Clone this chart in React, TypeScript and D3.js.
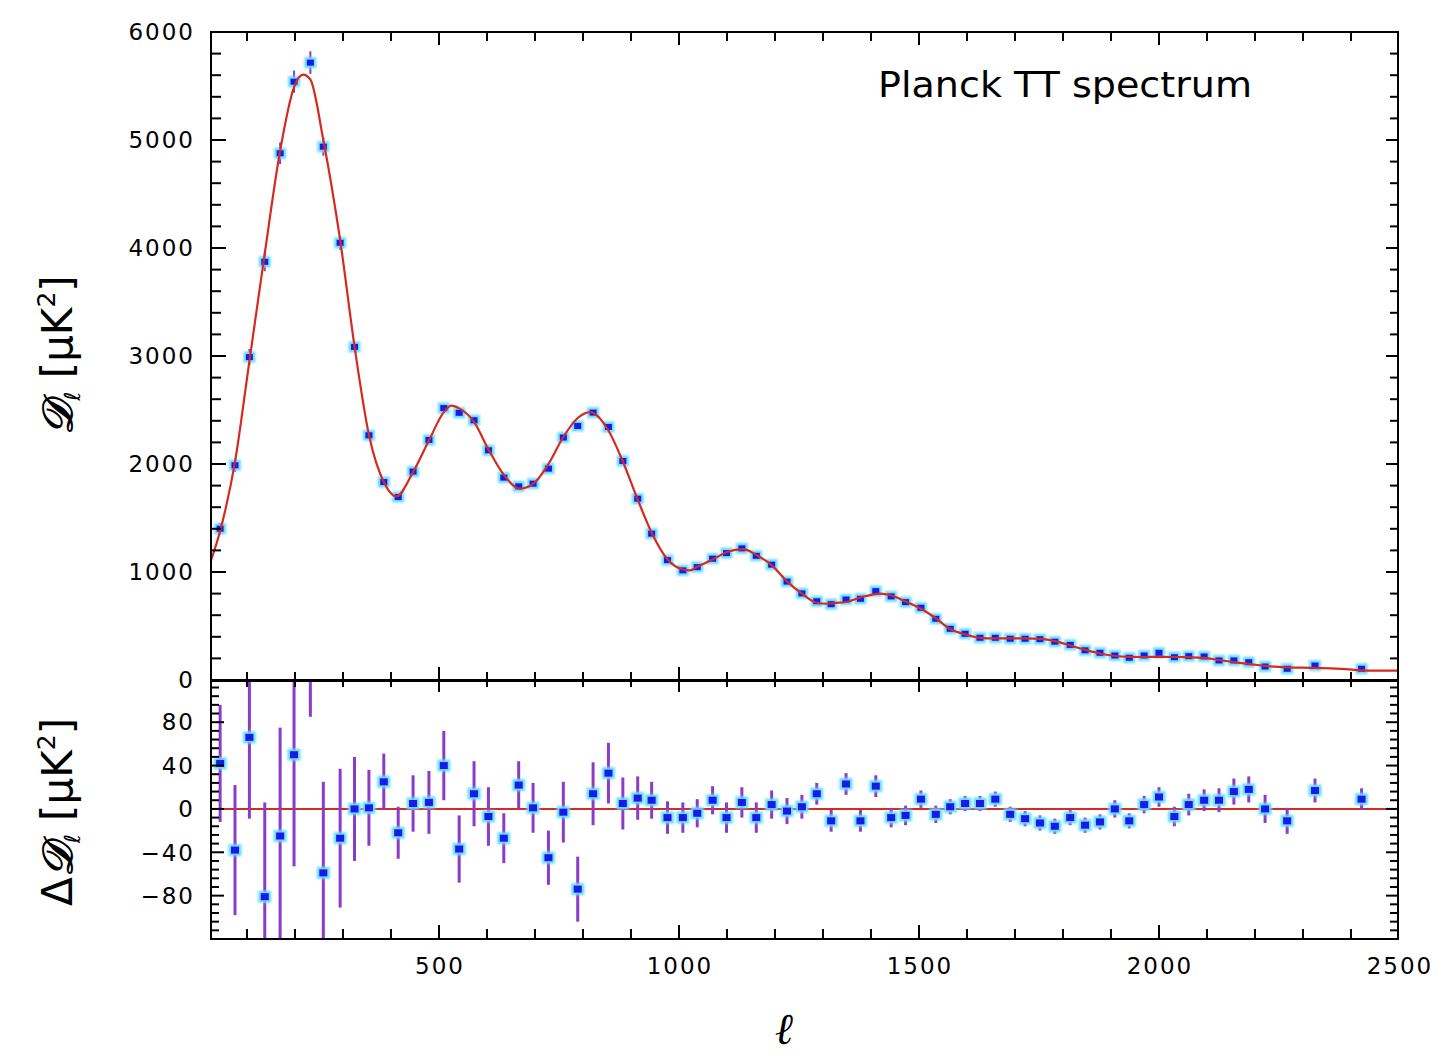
import React from 'react';
import * as d3 from 'd3';

// ---- Data ----
// Theory (best-fit) curve: multipole ℓ and D_ℓ [μK²]
const modelEll = [25, 44, 75, 104, 137, 169, 198, 217, 232, 259, 294, 324, 354, 387, 411, 446, 479, 510, 526, 542, 573, 603, 635, 669, 696, 728, 759, 789, 815, 853, 883, 914, 945, 976, 1008, 1023, 1038, 1070, 1099, 1134, 1161, 1193, 1225, 1256, 1287, 1307, 1317, 1348, 1378, 1419, 1442, 1472, 1504, 1535, 1565, 1596, 1627, 1659, 1690, 1721, 1752, 1783, 1815, 1846, 1877, 1908, 1938, 1969, 2000, 2032, 2062, 2094, 2125, 2156, 2187, 2221, 2267, 2325, 2390, 2422, 2500];
const modelD = [1107, 1380, 2020, 2920, 3950, 4900, 5490, 5606, 5560, 5000, 4075, 3090, 2270, 1815, 1700, 1925, 2217, 2480, 2540, 2515, 2390, 2135, 1900, 1772, 1815, 2000, 2250, 2426, 2480, 2310, 2023, 1670, 1345, 1118, 1023, 1015, 1049, 1115, 1183, 1212, 1158, 1064, 913, 800, 715, 706, 710, 722, 763, 800, 782, 727, 660, 572, 472, 423, 390, 385, 385, 385, 380, 360, 320, 280, 245, 222, 214, 213, 214, 213, 211, 205, 185, 165, 150, 130, 117, 113, 100, 90, 86];

// Binned data points
const binEll = [44, 75, 105, 137, 169, 198, 232, 259, 294, 324, 354, 385, 415, 446, 479, 510, 542, 573, 603, 635, 666, 696, 728, 759, 789, 821, 853, 883, 914, 943, 976, 1008, 1038, 1070, 1099, 1131, 1161, 1193, 1225, 1256, 1287, 1317, 1348, 1378, 1410, 1442, 1472, 1504, 1535, 1565, 1596, 1627, 1659, 1690, 1721, 1752, 1783, 1815, 1846, 1877, 1908, 1938, 1969, 2000, 2032, 2062, 2094, 2125, 2156, 2187, 2221, 2267, 2325, 2422];
const binD = [1401, 1988, 2990, 3872, 4877, 5540, 5716, 4938, 4048, 3084, 2266, 1833, 1694, 1930, 2223, 2518, 2474, 2405, 2127, 1874, 1793, 1818, 1957, 2245, 2352, 2476, 2343, 2028, 1679, 1355, 1110, 1015, 1045, 1123, 1175, 1219, 1150, 1068, 911, 802, 729, 702, 745, 752, 823, 774, 721, 669, 567, 474, 428, 391, 391, 382, 382, 378, 355, 325, 275, 252, 227, 206, 227, 252, 211, 221, 218, 181, 181, 165, 125, 104, 134, 104];
const binResid = [42, -38, 66, -81, -25, 50, 190, -59, -27, 0, 1, 25, -22, 5, 6, 40, -37, 14, -7, -27, 22, 1, -45, -3, -74, 14, 33, 5, 10, 8, -8, -8, -4, 8, -8, 6, -8, 4, -2, 2, 14, -11, 23, -11, 21, -8, -6, 9, -5, 2, 5, 5, 9, -5, -9, -13, -16, -8, -15, -12, 0, -11, 4, 11, -7, 4, 8, 8, 16, 18, 0, -11, 17, 9];
const binErr = [54, 60, 75, 87, 100, 103, 105, 84, 64, 48, 35, 26, 24, 26, 29, 32, 31, 30, 27, 23, 22, 23, 25, 28, 30, 29, 28, 24, 20, 17, 15, 14, 13, 13, 14, 14, 14, 13, 12, 11, 10, 10, 10, 10, 10, 9, 9, 8, 8, 7, 7, 7, 7, 7, 7, 7, 7, 7, 7, 7, 8, 7, 8, 9, 9, 10, 10, 11, 12, 12, 13, 12, 11, 10];

const upperTickValues = [0, 1000, 2000, 3000, 4000, 5000, 6000];
const lowerTickValues = [-80, -40, 0, 40, 80];
const xTickValues = [500, 1000, 1500, 2000, 2500];
const titleText = 'Planck TT spectrum';

const FONT = 'DejaVu Sans, Liberation Sans, sans-serif';
const RED = '#d42a22';
const BLUE = '#1a1ae6';
const HALO = '#6adcff';
const PURPLE = '#8a3cc8';

export default function App() {
  const W = 1449, H = 1063;
  const L = 211, R = 1398;
  const uTop = 32, uBot = 680, lTop = 681, lBot = 939;

  const x = d3.scaleLinear().domain([25, 2500]).range([L, 1399]);
  const yU = d3.scaleLinear().domain([0, 6000]).range([uBot, uTop]);
  const yL = d3.scaleLinear().domain([-120, 118]).range([lBot, lTop]);

  const curvePath = d3.line<number>()
    .x((_, i) => x(modelEll[i]))
    .y((d) => yU(d))
    .curve(d3.curveMonotoneX)(modelD) || '';

  const xMinor = d3.range(100, 2500, 100);
  const uMinor = d3.range(200, 6000, 200);
  const lMinor = d3.range(-112, 118, 8);

  const tickLine = (x1: number, y1: number, x2: number, y2: number, k: string) => (
    <line key={k} x1={x1} y1={y1} x2={x2} y2={y2} stroke="#000" strokeWidth={2} />
  );

  const ticks: React.ReactNode[] = [];
  xMinor.forEach((v) => {
    const major = v % 500 === 0;
    const px = x(v);
    ticks.push(tickLine(px, uTop, px, uTop + (major ? 13 : 9), `ut${v}`));
    ticks.push(tickLine(px, uBot, px, uBot - (major ? 13 : 8), `ub${v}`));
    ticks.push(tickLine(px, lTop, px, lTop + (major ? 11 : 6), `lt${v}`));
    ticks.push(tickLine(px, lBot, px, lBot - (major ? 14 : 10), `lb${v}`));
  });
  uMinor.forEach((v) => {
    const major = v % 1000 === 0;
    const py = yU(v);
    ticks.push(tickLine(L, py, L + (major ? 15 : 10), py, `ul${v}`));
    ticks.push(tickLine(R, py, R - (major ? 12 : 8), py, `ur${v}`));
  });
  lMinor.forEach((v) => {
    const major = v % 40 === 0;
    const py = yL(v);
    ticks.push(tickLine(L, py, L + (major ? 13 : 8), py, `ll${v}`));
    ticks.push(tickLine(R, py, R - (major ? 12 : 8), py, `lr${v}`));
  });

  return (
    <svg width={W} height={H} style={{ position: 'absolute', left: 0, top: 0, display: 'block', background: '#fff' }}>
      <defs>
        <clipPath id="clipU"><rect x={L} y={uTop} width={R - L} height={uBot - uTop} /></clipPath>
        <clipPath id="clipL"><rect x={L} y={lTop} width={R - L} height={lBot - lTop} /></clipPath>
        <filter id="glow" x="-50%" y="-50%" width="200%" height="200%">
          <feGaussianBlur stdDeviation="1.3" />
        </filter>
      </defs>
      <rect x={0} y={0} width={W} height={H} fill="#fff" />

      {/* Upper panel */}
      <g clipPath="url(#clipU)">
        {binEll.map((l, i) => (
          <line key={`ue${i}`} x1={x(l)} x2={x(l)} y1={yU(binD[i] - binErr[i])} y2={yU(binD[i] + binErr[i])}
            stroke={PURPLE} strokeWidth={2} />
        ))}
        {binEll.map((l, i) => (
          <rect key={`uh${i}`} x={x(l) - 6} y={yU(binD[i]) - 5.5} width={12} height={11} fill={HALO} filter="url(#glow)" />
        ))}
        {binEll.map((l, i) => (
          <rect key={`um${i}`} x={x(l) - 3.5} y={yU(binD[i]) - 3} width={7} height={6} fill={BLUE} />
        ))}
        <path d={curvePath} fill="none" stroke={RED} strokeWidth={2.2} />
      </g>

      {/* Lower panel */}
      <g clipPath="url(#clipL)">
        <line x1={L} x2={R} y1={yL(0)} y2={yL(0)} stroke={RED} strokeWidth={2} />
        {binEll.map((l, i) => (
          <line key={`le${i}`} x1={x(l)} x2={x(l)} y1={yL(binResid[i] - binErr[i])} y2={yL(binResid[i] + binErr[i])}
            stroke={PURPLE} strokeWidth={3} />
        ))}
        {binEll.map((l, i) => (
          <rect key={`lh${i}`} x={x(l) - 6.5} y={yL(binResid[i]) - 6} width={13} height={12} fill={HALO} filter="url(#glow)" />
        ))}
        {binEll.map((l, i) => (
          <rect key={`lm${i}`} x={x(l) - 4} y={yL(binResid[i]) - 3.5} width={8} height={7} fill={BLUE} />
        ))}
      </g>

      {/* Frames */}
      <rect x={L} y={uTop} width={R - L} height={uBot - uTop} fill="none" stroke="#000" strokeWidth={2} />
      <rect x={L} y={lTop} width={R - L} height={lBot - lTop} fill="none" stroke="#000" strokeWidth={2} />
      {ticks}

      {/* Tick labels */}
      <g fontFamily={FONT} fontSize={23} fill="#000" letterSpacing={2}>
        {upperTickValues.map((v) => (
          <text key={`uy${v}`} x={195} y={yU(v)} dy="0.36em" textAnchor="end">{v}</text>
        ))}
        {lowerTickValues.map((v) => (
          <text key={`ly${v}`} x={195} y={yL(v)} dy="0.36em" textAnchor="end">{v < 0 ? `\u2212${-v}` : v}</text>
        ))}
        {xTickValues.map((v) => (
          <text key={`xl${v}`} x={x(v) + 1} y={974} textAnchor="middle">{v}</text>
        ))}
      </g>

      {/* Title */}
      <text x={878} y={97} fontFamily={FONT} fontSize={36} textLength={374} lengthAdjust="spacingAndGlyphs">{titleText}</text>

      {/* Axis titles */}
      <text x={785} y={1044} fontFamily="DejaVu Serif, serif" fontStyle="italic" fontWeight="bold" fontSize={44} textAnchor="middle">ℓ</text>
      <text transform="translate(72, 355) rotate(-90)" fontFamily={FONT} fontSize={42} textAnchor="middle">
        <tspan fontFamily="DejaVu Serif, serif" fontStyle="italic" fontWeight="bold">𝒟</tspan>
        <tspan fontSize={22} dy={8} fontStyle="italic">ℓ</tspan>
        <tspan dy={-8}> [μK</tspan>
        <tspan fontSize={25} dy={-17}>2</tspan>
        <tspan dy={17}>]</tspan>
      </text>
      <text transform="translate(72, 812) rotate(-90)" fontFamily={FONT} fontSize={42} textAnchor="middle">
        <tspan>Δ</tspan>
        <tspan fontFamily="DejaVu Serif, serif" fontStyle="italic" fontWeight="bold">𝒟</tspan>
        <tspan fontSize={22} dy={8} fontStyle="italic">ℓ</tspan>
        <tspan dy={-8}> [μK</tspan>
        <tspan fontSize={25} dy={-17}>2</tspan>
        <tspan dy={17}>]</tspan>
      </text>
    </svg>
  );
}
